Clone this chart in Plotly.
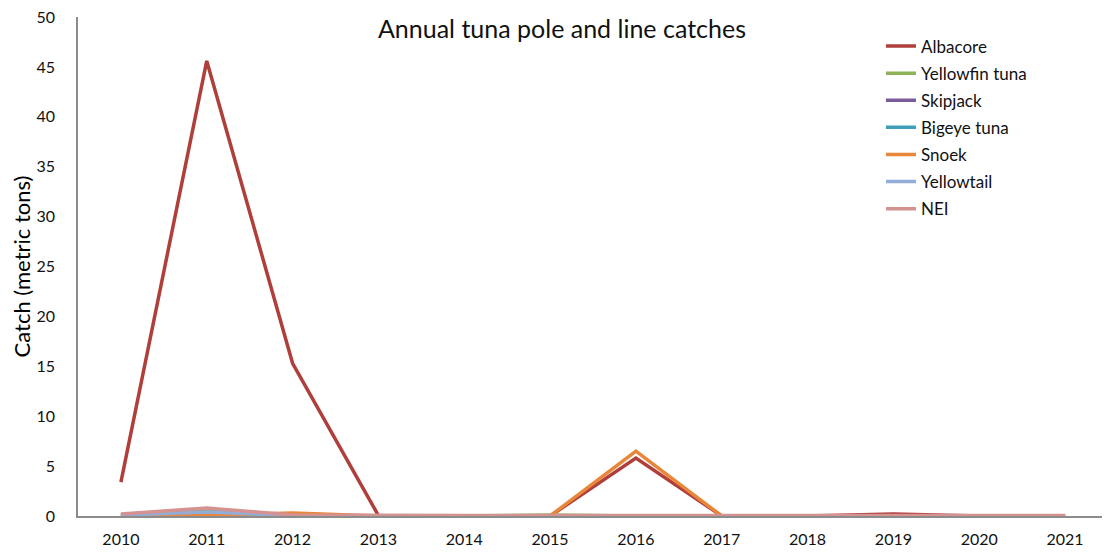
import plotly.graph_objects as go

years = ["2010", "2011", "2012", "2013", "2014", "2015", "2016", "2017", "2018", "2019", "2020", "2021"]
albacore = [3.4, 45.6, 15.3, 0.05, 0, 0, 5.8, 0, 0, 0.2, 0, 0]
yellowfin = [0.1, 0.5, 0.1, 0, 0, 0.1, 0, 0, 0, 0, 0, 0]
skipjack = [0.05, 0.3, 0.05, 0, 0, 0, 0, 0, 0, 0, 0, 0]
bigeye = [0.05, 0.3, 0.05, 0, 0, 0, 0, 0, 0, 0, 0, 0]
snoek = [0, 0.1, 0.3, 0, 0, 0, 6.5, 0, 0, 0, 0, 0]
yellowtail = [0.1, 0.4, 0.05, 0, 0, 0, 0, 0, 0, 0, 0, 0]
nei = [0.2, 0.8, 0.1, 0.05, 0.05, 0.05, 0.05, 0.05, 0.05, 0.1, 0.05, 0.05]

series = [
    ("Albacore", albacore, "#B03E3B"),
    ("Yellowfin tuna", yellowfin, "#8DB257"),
    ("Skipjack", skipjack, "#7A5C9C"),
    ("Bigeye tuna", bigeye, "#3F9FB8"),
    ("Snoek", snoek, "#E8863A"),
    ("Yellowtail", yellowtail, "#93ADD6"),
    ("NEI", nei, "#D49290"),
]

fig = go.Figure()
for name, vals, col in series:
    fig.add_trace(go.Scatter(x=years, y=vals, name=name, mode="lines", legendgroup=name,
                             line=dict(color=col, width=3.5)))

font_family = "Lato, Liberation Sans, Arial, sans-serif"
fig.update_layout(
    width=1102, height=546,
    margin=dict(l=70, r=2, t=9, b=38, autoexpand=False),
    plot_bgcolor="white", paper_bgcolor="white",
    font=dict(family=font_family, size=16, color="#222222"),
    title=dict(text="Annual tuna pole and line catches", x=0.5027, xanchor="center",
               y=0.9615, yanchor="middle", font=dict(size=25, color="#111111")),
    xaxis=dict(type="category", range=[-0.5, 11.5], showgrid=False, automargin=False,
               showline=True, linecolor="#8C8C8C", linewidth=1.5,
               ticks="", ticklabelstandoff=8, ticklabeloverflow="allow",
               tickfont=dict(size=16, color="#111111")),
    yaxis=dict(range=[0, 50], dtick=5, showgrid=False, showline=True, automargin=False,
               linecolor="#8C8C8C", linewidth=1.5, ticks="", zeroline=False,
               ticklabelstandoff=18, ticklabeloverflow="allow",
               tickfont=dict(size=16, color="#111111"),
               title=dict(text="Catch (metric tons)", font=dict(size=22, color="#000000"), standoff=7)),
    legend=dict(x=0.7796, y=0.977, xanchor="left", yanchor="top",
                font=dict(size=17, color="#111111"), bgcolor="rgba(0,0,0,0)",
                tracegroupgap=2, itemwidth=30),
)
fig.write_html("out.html")
